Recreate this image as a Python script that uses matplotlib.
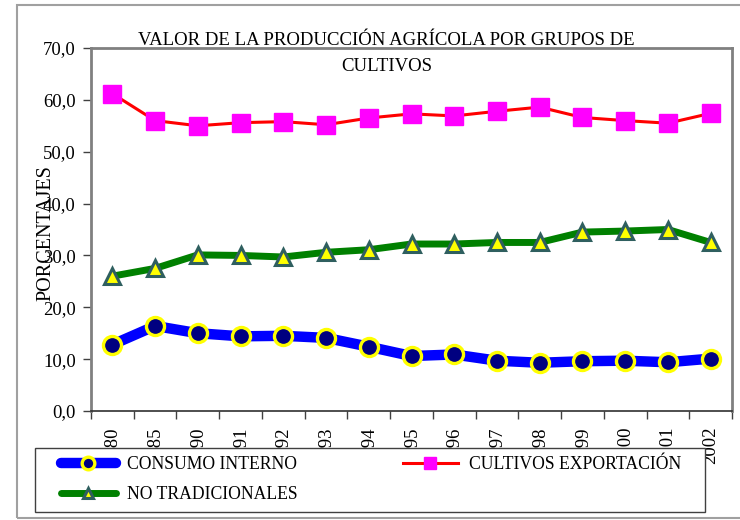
import matplotlib
matplotlib.use("Agg")
import matplotlib.pyplot as plt
from matplotlib.patches import Rectangle
from matplotlib.ticker import FuncFormatter

years = ["1980", "1985", "1990", "1991", "1992", "1993", "1994", "1995",
         "1996", "1997", "1998", "1999", "2000", "2001", "2002"]
consumo_interno = [12.8, 16.4, 15.0, 14.4, 14.5, 14.1, 12.4, 10.6,
                   10.9, 9.7, 9.3, 9.6, 9.7, 9.4, 10.1]
cultivos_exportacion = [61.2, 56.0, 55.0, 55.6, 55.8, 55.2, 56.5, 57.3,
                        56.9, 57.8, 58.6, 56.6, 56.0, 55.5, 57.4]
no_tradicionales = [26.0, 27.5, 30.1, 30.0, 29.7, 30.6, 31.1, 32.2,
                    32.2, 32.5, 32.5, 34.5, 34.7, 35.0, 32.5]

plt.rcParams['font.family'] = ['Liberation Serif', 'DejaVu Serif']
FS = 13.5
LFS = 12.7

fig = plt.figure(figsize=(7.4, 5.2), dpi=100)
ax = fig.add_axes([91 / 740, 1 - 411 / 520, 641 / 740, 363 / 520])

x = range(len(years))

# lines
l_ci, = ax.plot(x, consumo_interno, color='#0000ff', lw=7.5,
                marker='o', ms=13, mfc='#000080', mec='#ffff00', mew=2.4,
                label='CONSUMO INTERNO', solid_capstyle='round')
l_nt, = ax.plot(x, no_tradicionales, color='#008000', lw=5,
                marker='^', ms=11, mfc='#ffff00', mec='#2f5f5f', mew=2.2,
                label='NO TRADICIONALES', solid_capstyle='round')
l_ce, = ax.plot(x, cultivos_exportacion, color='#ff0000', lw=2.2,
                marker='s', ms=12.5, mfc='#ff00ff', mec='#ff00ff',
                label='CULTIVOS EXPORTACIÓN')

ax.set_xlim(-0.5, len(years) - 0.5)
ax.set_ylim(0, 70)
ax.set_yticks(range(0, 71, 10))
ax.yaxis.set_major_formatter(FuncFormatter(lambda v, p: f'{v:.1f}'.replace('.', ',')))
ax.tick_params(axis='y', labelsize=FS, length=6, width=1, color='#404040', pad=5)

# category ticks between points, labels at points
ax.set_xticks([i - 0.5 for i in range(len(years) + 1)])
ax.set_xticklabels([])
ax.set_xticks(list(x), minor=True)
ax.set_xticklabels(years, minor=True, rotation=90, fontsize=FS, va='top')
ax.tick_params(axis='x', which='major', length=6, width=1, color='#404040')
ax.tick_params(axis='x', which='minor', length=0, pad=11)

for side in ['left', 'top', 'right']:
    ax.spines[side].set_color('#808080')
    ax.spines[side].set_linewidth(2)
ax.spines['bottom'].set_color('#303030')
ax.spines['bottom'].set_linewidth(1.2)

ax.set_ylabel('PORCENTAJES', fontsize=FS + 1)
ax.yaxis.set_label_coords(-0.056, 0.49)

fig.text(0.522, 0.906, 'VALOR DE LA PRODUCCIÓN AGRÍCOLA POR GRUPOS DE',
         ha='center', va='bottom', fontsize=FS)
fig.text(0.522, 0.873, 'CULTIVOS', ha='center', va='center', fontsize=FS)

# legend box (white, covers the lower part of the year labels)
fig.patches.append(Rectangle((35 / 740, 8 / 520), 670 / 740, 64 / 520,
                             transform=fig.transFigure, facecolor='white',
                             edgecolor='#404040', lw=1, zorder=4))
leg = fig.legend([l_ci, l_nt, l_ce],
                 ['CONSUMO INTERNO', 'NO TRADICIONALES', 'CULTIVOS EXPORTACIÓN'],
                 ncol=2, loc='upper left',
                 bbox_to_anchor=(61 / 740, 1 - 456 / 520),
                 fontsize=LFS, handlelength=3.1, handletextpad=0.62,
                 columnspacing=6.0, markerscale=0.7, frameon=False,
                 borderpad=0, labelspacing=0.72, borderaxespad=0)
leg.set_zorder(5)

# outer chart frame
fig.patches.append(Rectangle((17 / 740, 2 / 520), 1.0, 513 / 520,
                             transform=fig.transFigure, fill=False,
                             edgecolor='#a0a0a0', lw=1.5, zorder=0))

fig.savefig('out.png', dpi=100)
